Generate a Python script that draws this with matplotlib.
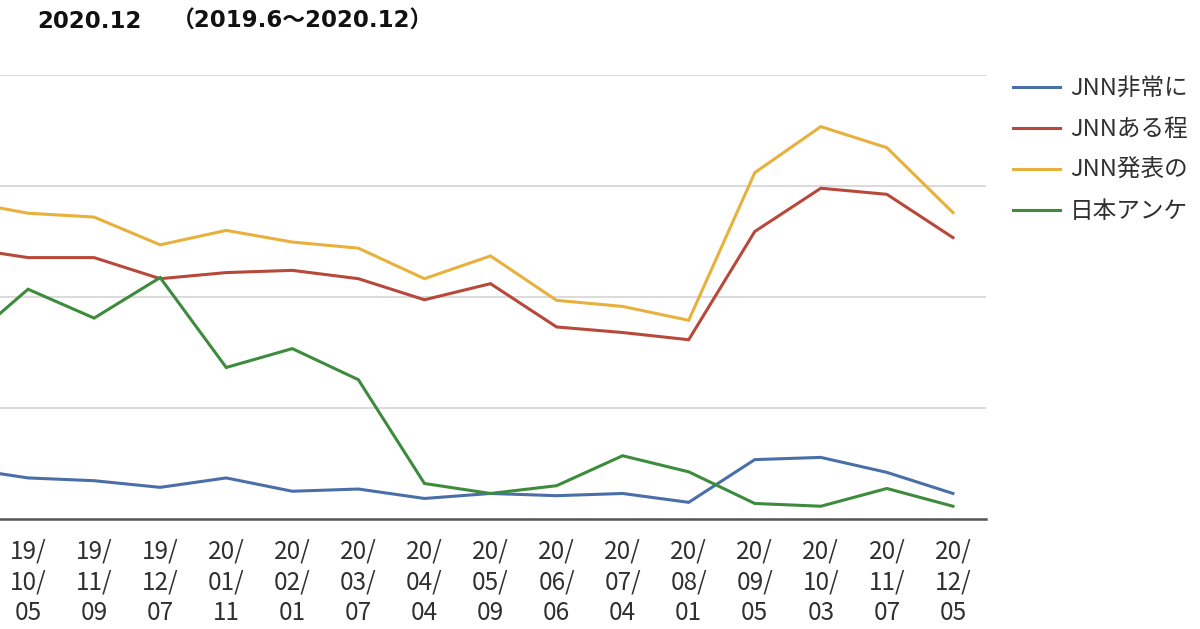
#!/usr/bin/env python
import matplotlib
matplotlib.use('Agg')
import matplotlib.pyplot as plt
from matplotlib.lines import Line2D

plt.rcParams['font.family'] = ['Noto Sans CJK JP', 'DejaVu Sans']

# survey dates (first one lies left of the visible crop)
dates = ['19/\n09/\n14', '19/\n10/\n05', '19/\n11/\n09', '19/\n12/\n07', '20/\n01/\n11',
         '20/\n02/\n01', '20/\n03/\n07', '20/\n04/\n04', '20/\n05/\n09', '20/\n06/\n06',
         '20/\n07/\n04', '20/\n08/\n01', '20/\n09/\n05', '20/\n10/\n03', '20/\n11/\n07',
         '20/\n12/\n05']

jnn_very = [9.2, 7.4, 6.9, 5.7, 7.4, 5.0, 5.4, 3.7, 4.6, 4.2, 4.6, 3.0, 10.7, 11.1, 8.4, 4.6]
jnn_some = [48.9, 47.1, 47.1, 43.3, 44.4, 44.8, 43.3, 39.5, 42.4, 34.6, 33.6, 32.3, 51.8, 59.6, 58.5, 50.7]
jnn_pub = [57.3, 55.1, 54.4, 49.4, 52.0, 49.9, 48.8, 43.3, 47.4, 39.4, 38.3, 35.8, 62.4, 70.7, 66.9, 55.2]
nihon_ank = [31.1, 41.4, 36.2, 43.5, 27.3, 30.7, 25.1, 6.4, 4.6, 6.0, 11.4, 8.5, 2.8, 2.3, 5.5, 2.3]

labels = ['JNN非常に', 'JNNある程', 'JNN発表の', '日本アンケ']
colors = ['#4a6fa8', '#b8493a', '#e8b03c', '#3d8b3d']

W, H = 1200, 629
fig = plt.figure(figsize=(W / 100, H / 100), dpi=100)
ax = fig.add_axes([0, 1 - 519 / H, 986 / W, 444 / H])

xs = list(range(-1, len(dates) - 1))
series = [jnn_very, jnn_some, jnn_pub, nihon_ank]
for vals, c in zip(series, colors):
    ax.plot(xs, vals, color=c, lw=2.2, solid_joinstyle='miter')

ax.set_xticks(xs)
ax.set_xticklabels(dates, fontsize=17.5, color='#303030', linespacing=1.24)
ax.tick_params(axis='x', length=0, pad=14)
ax.set_xlim(-28 / 66, 14.5)

ax.set_ylim(0, 80)
ax.set_yticks([20, 40, 60, 80])
ax.yaxis.grid(True, color='#d4d4d4', lw=1.2)
ax.set_axisbelow(True)
ax.tick_params(axis='y', length=0, labelleft=False)

for s in ['top', 'left', 'right']:
    ax.spines[s].set_visible(False)
ax.spines['bottom'].set_color('#555555')
ax.spines['bottom'].set_linewidth(1.8)

# title (left part is cut off in the source)
fig.text(37 / W, 1 - 21 / H, '2020.12', fontsize=16.5, fontweight='bold',
         family=['DejaVu Sans', 'Noto Sans CJK JP'], va='center', ha='left', color='#111111')
fig.text(172 / W, 1 - 21 / H, '（2019.6～2020.12）', fontsize=16.5, fontweight='bold',
         family=['DejaVu Sans', 'Noto Sans CJK JP'], va='center', ha='left', color='#111111')

handles = [Line2D([], [], color=c, lw=2.2) for c in colors]
fig.legend(handles, labels, loc='upper left', bbox_to_anchor=(1013 / W, 1 - 77 / H),
           frameon=False, fontsize=17, borderpad=0, borderaxespad=0,
           handlelength=2.0, handletextpad=0.42, labelspacing=0.76,
           labelcolor='#303030')

fig.savefig('out.png', dpi=100)
